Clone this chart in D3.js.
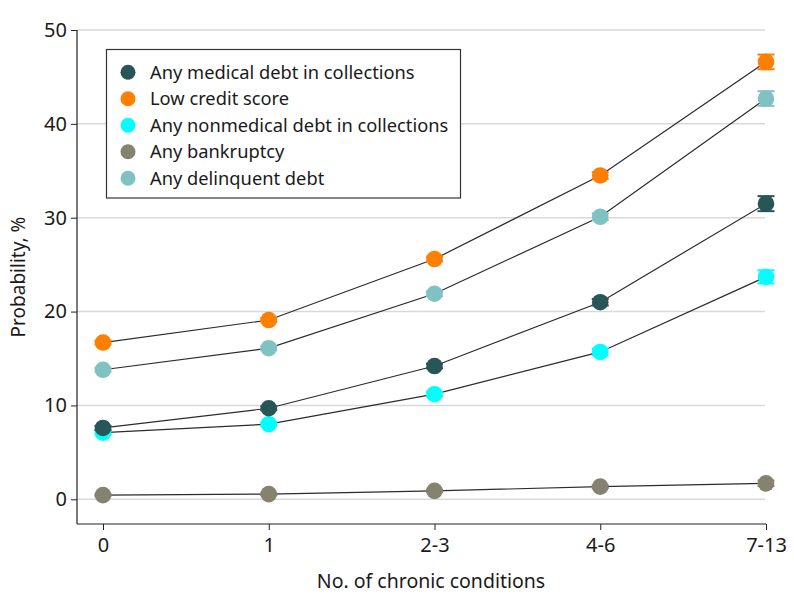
<!DOCTYPE html>
<html><head><meta charset="utf-8">
<script src="https://cdn.jsdelivr.net/npm/d3@7"></script>
<style>body{margin:0;background:#fff}text{font-family:"Noto Sans",sans-serif;fill:#1a1a1a}</style>
</head><body><svg id="c" width="794" height="609"></svg>
<script>
const categories = ["0", "1", "2-3", "4-6", "7-13"];
const seriesNames = ["Any medical debt in collections", "Low credit score", "Any nonmedical debt in collections", "Any bankruptcy", "Any delinquent debt"];
const seriesColors = ["#285555", "#ff7f00", "#00ffff", "#858370", "#80c2c2"];
const medical = [7.6, 9.7, 14.2, 21.0, 31.5];
const lowCredit = [16.7, 19.1, 25.6, 34.5, 46.6];
const nonmedical = [7.1, 8.0, 11.2, 15.7, 23.7];
const bankruptcy = [0.45, 0.55, 0.9, 1.35, 1.7];
const delinquent = [13.8, 16.1, 21.9, 30.1, 42.7];
const medicalCI = [0.2, 0.2, 0.25, 0.35, 0.8];
const lowCreditCI = [0.2, 0.2, 0.25, 0.35, 0.78];
const nonmedicalCI = [0.2, 0.2, 0.25, 0.35, 0.7];
const bankruptcyCI = [0.1, 0.1, 0.1, 0.15, 0.3];
const delinquentCI = [0.2, 0.2, 0.25, 0.35, 0.78];
const yTicks = [0, 10, 20, 30, 40, 50];

const values = [medical, lowCredit, nonmedical, bankruptcy, delinquent];
const cis = [medicalCI, lowCreditCI, nonmedicalCI, bankruptcyCI, delinquentCI];
// draw order: bankruptcy, nonmedical, medical, delinquent, low credit
const drawOrder = [3, 2, 0, 4, 1];

const svg = d3.select("#c");
const x = d3.scalePoint().domain(categories).range([103, 766]);
const y = d3.scaleLinear().domain([0, 50]).range([499.3, 30]);

// gridlines
svg.append("g").selectAll("line").data(yTicks).join("line")
  .attr("x1", 77).attr("x2", 765).attr("y1", d => y(d)).attr("y2", d => y(d))
  .attr("stroke", "#d9d9d9").attr("stroke-width", 1.5);

// y axis
const ya = svg.append("g").attr("transform", "translate(77,0)")
  .call(d3.axisLeft(y).tickValues(yTicks).tickSize(6).tickPadding(4).tickSizeOuter(0));
ya.select(".domain").attr("stroke", "#222").attr("stroke-width", 1.2).attr("d", `M0,${y(50)}V524`);
ya.selectAll(".tick line").attr("stroke", "#222");
ya.selectAll("text").style("font-size", "20px").style("font-family", "Noto Sans").attr("fill", "#1a1a1a");

// x axis
const xa = svg.append("g").attr("transform", "translate(0,524)")
  .call(d3.axisBottom(x).tickSize(6).tickPadding(8).tickSizeOuter(0));
xa.select(".domain").attr("stroke", "#222").attr("stroke-width", 1.2).attr("d", "M77,0H766");
xa.selectAll(".tick line").attr("stroke", "#222");
xa.selectAll("text").style("font-size", "20px").style("font-family", "Noto Sans").attr("fill", "#1a1a1a");

// titles
svg.append("text").attr("x", 431).attr("y", 588).attr("text-anchor", "middle")
  .style("font-size", "19.5px").text("No. of chronic conditions");
svg.append("text").attr("transform", "translate(25,277) rotate(-90)").attr("text-anchor", "middle")
  .style("font-size", "19px").text("Probability, %");

// lines
const line = d3.line().x((d, i) => x(categories[i])).y(d => y(d));
drawOrder.forEach(s => {
  svg.append("path").datum(values[s]).attr("d", line)
    .attr("fill", "none").attr("stroke", "#2b2b2b").attr("stroke-width", 1.2);
});

// error bars + markers
drawOrder.forEach(s => {
  const g = svg.append("g");
  values[s].forEach((v, i) => {
    const cx = x(categories[i]), e = cis[s][i];
    g.append("line").attr("x1", cx).attr("x2", cx).attr("y1", y(v - e)).attr("y2", y(v + e))
      .attr("stroke", seriesColors[s]).attr("stroke-width", 2);
    [v - e, v + e].forEach(b => g.append("line").attr("x1", cx - 8.5).attr("x2", cx + 8.5)
      .attr("y1", y(b)).attr("y2", y(b)).attr("stroke", seriesColors[s]).attr("stroke-width", 2));
    g.append("circle").attr("cx", cx).attr("cy", y(v)).attr("r", 8.3).attr("fill", seriesColors[s]);
  });
});

// legend
const lg = svg.append("g");
lg.append("rect").attr("x", 106.5).attr("y", 49.5).attr("width", 354).attr("height", 148.5)
  .attr("fill", "#fff").attr("stroke", "#333").attr("stroke-width", 1.2);
seriesNames.forEach((n, i) => {
  const cy = 72.3 + i * 26.5;
  lg.append("circle").attr("cx", 128).attr("cy", cy).attr("r", 7.5).attr("fill", seriesColors[i]);
  lg.append("text").attr("x", 150).attr("y", cy + 6.5).style("font-size", "18.3px").text(n);
});
</script></body></html>
